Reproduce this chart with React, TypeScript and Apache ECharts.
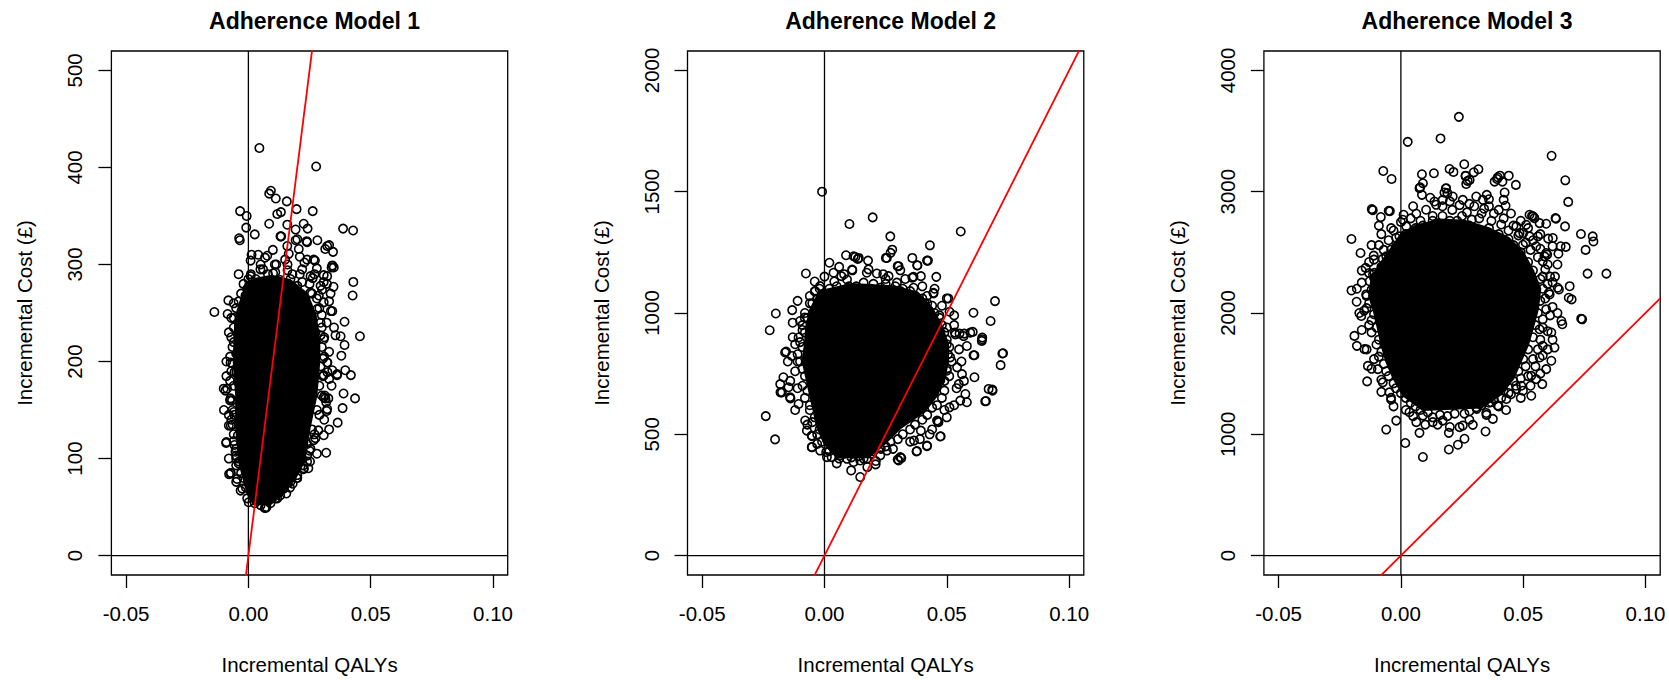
import React, { useEffect, useRef } from "react";
import * as echarts from "echarts";

// ---------- data ----------
const titles = ["Adherence Model 1", "Adherence Model 2", "Adherence Model 3"];
const xTitle = "Incremental QALYs";
const yTitle = "Incremental Cost (£)";
const xTicks = [-0.05, 0, 0.05, 0.1];
const xRange = [-0.056, 0.106];
const yTicks1 = [0, 100, 200, 300, 400, 500];
const yRange1 = [-20, 520];
const yTicks2 = [0, 500, 1000, 1500, 2000];
const yRange2 = [-80, 2080];
const yTicks3 = [0, 1000, 2000, 3000, 4000];
const yRange3 = [-160, 4160];
const wtpThreshold = 20000; // £ per QALY (red line)

// dense (fully overlapped) region of each cloud, in data units
const core1 = [
  [0.002, 285], [0.009, 288], [0.017, 284], [0.024, 270], [0.0275, 248], [0.029, 220], [0.029, 200],
  [0.0278, 165], [0.025, 131], [0.0228, 97], [0.019, 79], [0.0135, 62], [0.009, 53], [0.0022, 53],
  [0.0, 62], [-0.002, 79], [-0.0038, 97], [-0.005, 131], [-0.005, 165], [-0.006, 200], [-0.0055, 234],
  [-0.0045, 252], [-0.0025, 268], [-0.0005, 280],
];
const core2 = [
  [-0.002, 1090], [0.011, 1120], [0.028, 1110], [0.038, 1085], [0.044, 1020], [0.048, 945], [0.0505, 871],
  [0.0505, 800], [0.049, 730], [0.046, 660], [0.041, 595], [0.031, 525], [0.024, 455], [0.018, 405],
  [0.005, 405], [0.0, 460], [-0.003, 530], [-0.0045, 600], [-0.006, 666], [-0.0075, 735], [-0.009, 803],
  [-0.008, 871], [-0.0075, 940], [-0.006, 1010],
];
const core3 = [
  [0.006, 2720], [0.016, 2770], [0.026, 2760], [0.036, 2700], [0.044, 2620], [0.05, 2500], [0.054, 2350],
  [0.057, 2200], [0.056, 2030], [0.054, 1880], [0.052, 1740], [0.049, 1600], [0.046, 1460], [0.041, 1330],
  [0.033, 1220], [0.009, 1200], [0.001, 1320], [-0.003, 1460], [-0.006, 1600], [-0.008, 1740],
  [-0.0095, 1880], [-0.011, 2010], [-0.013, 2140], [-0.012, 2290], [-0.008, 2420], [-0.003, 2560], [0.0, 2650],
];

// individually visible simulations
const points1 = [
  [0.0045, 420], [0.0277, 401], [0.0085, 373], [0.0092, 376], [0.0112, 368], [0.0157, 365], [0.0197, 357],
  [0.0263, 355], [-0.0034, 355], [-0.0007, 350], [0.0118, 352], [0.0133, 354], [0.0085, 342], [0.0159, 341],
  [0.0226, 342], [0.0242, 337], [-0.0009, 338], [0.0026, 331], [-0.0038, 327], [-0.0035, 325], [0.0134, 329],
  [0.0387, 337], [0.0428, 335], [0.0193, 325], [0.0238, 324], [0.0282, 325], [0.033, 320], [0.0346, 313],
  [0.0314, 316], [0.0429, 282], [0.0426, 268], [0.0393, 241], [0.0349, 297], [0.034, 297], [0.0348, 277],
  [0.0337, 252], [-0.0139, 251], [-0.0085, 249], [-0.0082, 263], [0.0456, 226], [0.0377, 226], [0.0013, 310],
  [0.0068, 307], [0.0009, 304], [0.0108, 300], [0.0229, 302], [0.0272, 304], [0.0263, 286], [0.0308, 289],
  [0.0321, 280], [0.0301, 274], [-0.0005, 275], [-0.0012, 268],
  [0.0393, 217], [0.038, 206], [0.0396, 191], [0.0419, 186], [0.0362, 186], [0.0389, 167], [0.0436, 162],
  [0.0385, 152], [0.0365, 137], [0.032, 149], [0.0318, 158], [0.0327, 162], [0.0312, 165], [0.0308, 124],
  [0.0318, 106], [0.0267, 119], [0.0286, 129], [0.0323, 189], [0.033, 182], [0.0305, 203], [0.0323, 199],
  [0.0252, 97], [0.0245, 90], [0.0225, 89], [0.0198, 80], [0.0181, 74], [0.0155, 64], [0.0111, 59],
  [0.0067, 49], [0.0074, 50], [0.0026, 54], [0.0001, 55], [-0.0032, 67], [-0.005, 76], [-0.0072, 85],
  [-0.0079, 84], [-0.005, 93], [-0.005, 103], [-0.0091, 116], [-0.0057, 114], [-0.0072, 134], [-0.0065, 135],
  [-0.0057, 145], [-0.0101, 172], [-0.0094, 170], [-0.0067, 160], [-0.0057, 189], [-0.0065, 198], [-0.005, 208],
  [-0.0038, 222],
  [0.0077, 309], [0.0114, 300], [0.0101, 291], [0.0049, 295], [0.0009, 288], [0.0002, 278], [0.0063, 280],
  [0.0165, 311], [0.0206, 316], [0.024, 305], [0.0322, 319], [0.0343, 299], [0.0322, 288], [0.0295, 278],
  [0.0343, 252], [0.024, 323], [0.02, 326], [0.0131, 329], [0.0159, 319], [0.0193, 336], [0.0267, 305],
  [0.022, 295], [0.0254, 288], [0.0288, 268], [0.0308, 282], [0.0254, 271], [0.02, 278], [0.0172, 285],
  [0.0036, 268], [-0.0019, 257], [-0.0032, 247], [-0.0039, 237], [-0.0043, 228], [0.0336, 270], [0.0308, 261],
  [0.0281, 254], [0.0295, 240], [0.0274, 230],
  [0.0295, 227], [0.0308, 223], [0.0356, 227], [0.0322, 199], [0.0343, 191], [0.0308, 186], [0.0363, 187],
  [0.0315, 162], [0.0322, 151], [0.0308, 163], [0.0274, 121], [0.0254, 110], [0.024, 103], [0.024, 97],
  [0.0227, 90], [0.02, 83], [0.0172, 76], [0.0145, 69], [0.0118, 59], [0.007, 49],
  [-0.0073, 199], [-0.0087, 172], [-0.0073, 162], [-0.008, 134], [-0.009, 117], [-0.0053, 107], [-0.0073, 85],
  [-0.0046, 79], [-0.0025, 69], [-0.0005, 59], [-0.006, 220], [-0.0043, 208], [-0.0049, 189], [-0.0043, 179],
  [-0.006, 148], [-0.0043, 124], [-0.0039, 97],
  [0.003, 285], [0.008, 290], [0.013, 284], [0.018, 290], [0.022, 282], [0.026, 270], [0.029, 255],
  [0.03, 235], [0.03, 215], [0.0295, 195], [0.029, 175], [0.028, 150], [0.026, 130], [0.024, 115],
  [0.022, 100], [0.019, 88], [0.016, 75], [0.012, 66], [0.008, 58], [0.004, 58], [0.001, 66], [-0.002, 80],
  [-0.004, 95], [-0.005, 110], [-0.006, 125], [-0.0065, 150], [-0.006, 175], [-0.007, 190], [-0.0065, 215],
  [-0.006, 235], [-0.005, 255], [-0.003, 270], [0.0, 285], [0.005, 300], [0.016, 300], [0.027, 290],
  [0.032, 240], [0.033, 210], [0.031, 140], [-0.008, 145], [-0.009, 185], [-0.008, 230], [-0.007, 245],
  [0.001, 290], [0.006, 295], [0.011, 292], [0.016, 294], [0.021, 290], [0.025, 280], [0.028, 265],
  [0.03, 248], [0.031, 225], [0.031, 205], [0.0305, 185], [0.03, 165], [0.029, 145], [0.027, 125],
  [0.025, 108], [0.0225, 93], [0.02, 80], [0.017, 70], [0.013, 62], [0.009, 54], [0.005, 52], [0.002, 60],
  [-0.001, 70], [-0.003, 85], [-0.005, 100], [-0.006, 118], [-0.007, 140], [-0.0075, 160], [-0.0075, 180],
  [-0.0075, 205], [-0.007, 225], [-0.006, 245], [-0.004, 262], [-0.002, 280],
  [0.004, 310], [0.01, 315], [0.015, 305], [0.021, 308], [0.028, 296], [0.033, 262], [0.035, 235],
  [0.034, 175], [0.033, 130], [0.028, 105], [-0.009, 200], [-0.01, 150], [-0.008, 100], [-0.006, 260],
  [-0.004, 290],
];

const points2 = [
  [-0.001, 1500], [0.0102, 1367], [0.0197, 1394], [0.0557, 1336], [0.0269, 1316], [0.0431, 1279], [0.0277, 1261],
  [0.027, 1248], [0.0088, 1238], [0.0126, 1231], [0.0136, 1223], [0.0178, 1216], [0.0251, 1227], [0.0359, 1227],
  [0.0419, 1216], [0.0379, 1197], [0.002, 1207], [-0.0076, 1163], [0.0457, 1149], [0.0114, 1176], [0.0299, 1193],
  [0.031, 1176], [0.0359, 1146], [0.0394, 1152], [0.0069, 1152], [-0.004, 1089], [0.0697, 1049], [0.0609, 1001],
  [0.0679, 967], [0.0506, 1060], [0.0511, 1005], [0.0445, 1083], [-0.0199, 998], [-0.0132, 1012], [-0.0224, 929],
  [-0.0081, 981], [0.0533, 919], [0.0552, 915], [0.0571, 915], [0.0606, 922], [0.0645, 899],
  [0.0119, 1234], [0.014, 1227], [0.0113, 1179], [0.0037, 1166], [0.0255, 1227], [0.038, 1196], [0.0423, 1216],
  [0.0303, 1193], [0.0364, 1149], [0.0446, 1081], [0.05, 1060], [-0.0018, 1111], [-0.0038, 1090], [0.001, 1077],
  [0.0092, 1138], [0.0173, 1166], [0.0214, 1163], [0.0262, 1152], [0.0296, 1125], [0.0364, 1104], [0.0419, 1070],
  [0.035, 1070],
  [-0.01, 967], [-0.0106, 899], [-0.012, 871], [-0.0157, 841], [-0.0133, 823], [-0.0168, 735], [-0.0181, 707],
  [-0.0147, 694], [-0.0174, 673], [-0.0141, 653], [-0.0106, 625], [-0.024, 575], [-0.0202, 479], [-0.0079, 557],
  [-0.0072, 515], [-0.0052, 495], [-0.0052, 447], [-0.0018, 433], [0.001, 406],
  [0.0535, 912], [0.0569, 905], [0.0596, 919], [0.0644, 892], [0.0582, 864], [0.0609, 826], [0.0727, 833],
  [0.072, 785], [0.05, 871], [0.0514, 817], [0.0542, 776], [0.0562, 748], [0.0549, 707], [0.0613, 735],
  [0.0576, 666], [0.0582, 632], [0.0555, 639], [0.0671, 687], [0.0687, 680], [0.0657, 636], [0.0511, 611],
  [0.046, 557], [0.0466, 550], [0.0473, 491], [0.0419, 454], [0.0378, 431], [0.031, 406], [0.0303, 392],
  [0.0394, 515], [0.0366, 474], [0.05, 762], [0.0473, 721],
  [0.0255, 433], [0.0228, 413], [0.0173, 399], [0.0146, 392], [0.0092, 399], [0.0064, 413], [0.0119, 386],
  [0.0146, 324], [0.0109, 351], [0.0175, 365], [0.0209, 376], [0.0299, 396], [0.0314, 402], [0.0376, 429],
  [0.0419, 451], [0.0475, 492], [0.0463, 554], [0.0029, 406], [0.0007, 427], [-0.0051, 447], [-0.0051, 492],
  [-0.0161, 837], [-0.018, 673], [-0.0139, 648], [0.073, 834], [0.066, 637], [0.0686, 684], [0.0643, 885],
  [0.0613, 826],
  [0.005, 1110], [0.02, 1120], [0.032, 1100], [0.041, 1040], [0.047, 990], [0.05, 940], [-0.006, 1040],
  [-0.009, 930], [-0.011, 800],
  [-0.002, 1100], [0.004, 1130], [0.01, 1110], [0.016, 1125], [0.023, 1105], [0.029, 1110], [0.035, 1090],
  [0.04, 1060], [0.044, 1030], [0.047, 980], [0.049, 920], [0.051, 860], [0.052, 800], [0.051, 740],
  [0.049, 680], [0.046, 620], [0.042, 580], [0.037, 540], [0.032, 500], [0.027, 470], [0.023, 440],
  [0.019, 420], [0.014, 410], [0.008, 420], [0.004, 440], [0.001, 480], [-0.002, 520], [-0.004, 570],
  [-0.006, 620], [-0.007, 680], [-0.008, 740], [-0.01, 800], [-0.009, 860], [-0.008, 920], [-0.007, 980],
  [-0.005, 1040], [-0.012, 760], [-0.013, 900], [-0.011, 690], [0.054, 690], [0.056, 800], [0.053, 950],
  [0.045, 1100], [0.025, 1140], [0.008, 1160], [-0.004, 1130], [0.035, 470], [0.028, 440], [0.044, 520],
  [0.05, 570],
  [-0.003, 1060], [0.002, 1100], [0.007, 1080], [0.013, 1110], [0.019, 1100], [0.025, 1120], [0.031, 1090],
  [0.037, 1070], [0.042, 1040], [0.045, 1000], [0.048, 950], [0.05, 890], [0.0505, 830], [0.05, 770],
  [0.049, 720], [0.048, 650], [0.044, 610], [0.04, 560], [0.035, 520], [0.03, 480], [0.025, 450],
  [0.02, 430], [0.016, 400], [0.011, 405], [0.006, 400], [0.002, 430], [-0.001, 470], [-0.003, 500],
  [-0.005, 550], [-0.006, 600], [-0.008, 650], [-0.009, 700], [-0.009, 770], [-0.011, 830], [-0.01, 880],
  [-0.009, 950], [-0.008, 1000], [-0.006, 1070],
  [0.0, 1150], [0.006, 1190], [0.018, 1180], [0.024, 1160], [0.033, 1140], [0.04, 1110], [0.048, 1030],
  [0.053, 990], [0.055, 850], [0.057, 720], [0.053, 620], [0.049, 600], [0.043, 500], [0.039, 480],
  [0.021, 390], [0.005, 380], [-0.003, 460], [-0.007, 540], [-0.012, 600], [-0.014, 720], [-0.015, 800],
  [-0.013, 960], [-0.011, 1050],
];

const points3 = [
  [0.0237, 3617], [0.0162, 3439], [0.0028, 3411], [0.0616, 3296], [-0.0072, 3171], [-0.0038, 3105], [0.0086, 3144],
  [0.0135, 3152], [0.0199, 3187], [0.0215, 3163], [0.0259, 3226], [0.0265, 3132], [0.0273, 3089], [0.0298, 3160],
  [0.0317, 3185], [0.0672, 3094], [0.0684, 2916], [0.0405, 3132], [0.0441, 3132], [0.0393, 3105], [0.0415, 3083],
  [0.047, 3056], [0.0079, 3037], [0.0086, 2974], [0.0184, 3026], [0.019, 2988], [-0.0115, 2848], [-0.0045, 2840],
  [-0.0082, 2791], [-0.0202, 2610], [-0.0165, 2495], [-0.0111, 2473], [-0.0144, 2372], [-0.0114, 2317],
  [-0.0202, 2186], [-0.0181, 2093], [0.0736, 2651], [0.0784, 2632], [0.0787, 2590], [0.0755, 2520], [0.0763, 2325],
  [0.084, 2325], [0.0634, 2777], [0.0671, 2714], [0.0536, 2801], [0.0546, 2782], [0.0602, 2613], [0.0653, 2550],
  [0.0674, 2545], [0.0598, 2481], [0.0644, 2489], [0.069, 2221], [0.0698, 2112], [0.0741, 1948], [0.0656, 1934],
  [0.066, 1907], [0.062, 2254], [0.0641, 2208], [0.0605, 2167], [0.0686, 2126],
  [-0.0119, 2856], [0.0011, 2810], [0.0008, 2769], [0.0063, 2818], [0.009, 3070], [0.0076, 3029], [0.0185, 3029],
  [0.0178, 2993], [0.0264, 3130], [0.0281, 3097], [0.0267, 3064], [0.0396, 3119], [0.0383, 3083], [0.0424, 2993],
  [0.042, 2933], [0.0428, 2884], [0.0351, 2974], [0.036, 2938], [0.0526, 2810], [0.054, 2796], [0.0567, 2741],
  [0.0594, 2736], [0.0632, 2782], [0.0621, 2618], [0.0594, 2495], [0.058, 2426], [0.0472, 2714], [0.0512, 2727],
  [0.0485, 2659], [0.0526, 2632], [0.056, 2632], [0.0499, 2563], [0.0553, 2550], [0.0587, 2467], [0.0171, 2933],
  [0.0137, 2919], [0.0212, 2960], [0.0253, 2933], [0.0308, 2960], [0.0335, 2933], [0.0103, 2851], [0.0144, 2892],
  [0.0022, 2714], [-0.0006, 2632], [-0.0019, 2550], [-0.004, 2522], [-0.006, 2467], [-0.0074, 2385],
  [-0.0108, 2331], [-0.0128, 2262], [-0.0074, 2446], [-0.005, 2842],
  [-0.0142, 2153], [-0.0162, 1975], [-0.019, 1811], [-0.018, 1729], [-0.0149, 1702], [-0.0135, 1564],
  [-0.0138, 1436], [-0.0094, 1537], [-0.0074, 1428], [-0.0047, 1346], [-0.004, 1285], [-0.006, 1039],
  [-0.0019, 1113], [0.0018, 928], [0.009, 813], [0.0076, 1012], [0.0196, 1012], [0.0253, 1072], [0.024, 1059],
  [0.0294, 1078], [0.0346, 1023], [0.0376, 1127], [0.0349, 1176], [0.0196, 875], [0.0233, 914], [0.026, 963],
  [0.013, 1100], [0.0171, 1113], [0.009, 1154], [0.0035, 1182], [0.0063, 1100], [0.0308, 1223], [0.0396, 1236],
  [0.0431, 1291], [0.0369, 1264], [0.0472, 1373], [0.0492, 1400], [0.0533, 1318], [0.0578, 1414], [0.0553, 1455],
  [0.0533, 1482], [0.0615, 1606], [0.0594, 1537], [0.0628, 1715], [0.0615, 1839], [0.058, 1948], [0.0737, 1953],
  [0.0646, 2194], [0.0567, 1633], [0.058, 1729], [0.0567, 1866], [0.0594, 2030], [0.0608, 2153], [0.0499, 1359],
  [0.002, 2650], [0.006, 2700], [0.011, 2680], [0.015, 2740], [0.019, 2700], [0.023, 2760], [0.028, 2720],
  [0.032, 2780], [0.036, 2700], [0.04, 2650], [0.044, 2610], [0.046, 2560], [0.049, 2500], [0.052, 2420],
  [0.054, 2350], [0.057, 2280], [0.058, 2200], [0.057, 2100], [0.056, 2000], [0.055, 1900], [0.054, 1800],
  [0.052, 1700], [0.05, 1620], [0.048, 1520], [0.046, 1440], [0.042, 1360], [0.038, 1290], [0.033, 1240],
  [0.028, 1190], [0.022, 1170], [0.016, 1160], [0.011, 1180], [0.006, 1230], [0.002, 1300], [-0.002, 1380],
  [-0.005, 1480], [-0.007, 1580], [-0.008, 1680], [-0.009, 1780], [-0.01, 1880], [-0.011, 1990],
  [-0.013, 2080], [-0.012, 2190], [-0.011, 2290], [-0.008, 2380], [-0.004, 2460], [0, 2540], [0.004, 2600],
  [0.013, 2800], [0.021, 2850], [0.027, 2830], [0.034, 2860], [0.038, 2820], [0.042, 2780], [0.046, 2720],
  [0.05, 2660], [0.054, 2600], [0.057, 2530], [0.06, 2400], [0.061, 2300], [0.062, 2050], [0.06, 1850],
  [0.058, 1650], [0.055, 1560], [0.052, 1480], [0.045, 1330], [0.04, 1230], [0.015, 1080], [0.005, 1150],
  [-0.003, 1230], [-0.008, 1350], [-0.011, 1620], [-0.013, 1900], [-0.015, 2020], [-0.016, 2250],
  [-0.013, 2420], [-0.009, 2560], [-0.003, 2680], [0.008, 2760], [0.017, 2880], [0.024, 2890], [0.03, 2880],
  [-0.004, 2700], [0.0, 2750], [0.004, 2780], [0.009, 2720], [0.013, 2760], [0.017, 2800], [0.02, 2760],
  [0.025, 2800], [0.029, 2770], [0.033, 2820], [0.037, 2760], [0.041, 2730], [0.044, 2680], [0.048, 2640],
  [0.051, 2580], [0.053, 2520], [0.056, 2460], [0.059, 2360], [0.058, 2300], [0.06, 2240], [0.059, 2120],
  [0.061, 1980], [0.058, 1880], [0.057, 1780], [0.056, 1700], [0.054, 1620], [0.051, 1560], [0.049, 1460],
  [0.047, 1400], [0.044, 1340], [0.041, 1300], [0.036, 1260], [0.031, 1210], [0.026, 1170], [0.019, 1150],
  [0.013, 1140], [0.008, 1200], [0.004, 1260], [0.0, 1340], [-0.003, 1420], [-0.006, 1520], [-0.009, 1640],
  [-0.01, 1740], [-0.012, 1840], [-0.012, 1940], [-0.014, 2040], [-0.014, 2140], [-0.013, 2330],
  [-0.011, 2440], [-0.007, 2520], [-0.005, 2600], [-0.002, 2620], [0.002, 2580], [0.014, 2690], [0.03, 2670],
  [0.045, 2520], [0.05, 2380],
  [0.005, 2880], [0.012, 2950], [0.02, 2920], [0.028, 2900], [0.036, 2880], [0.04, 2850], [0.045, 2820],
  [0.049, 2760], [0.052, 2700], [0.057, 2650], [0.062, 2550], [0.064, 2400], [0.063, 2300], [0.064, 2000],
  [0.062, 1780], [0.06, 1700], [0.057, 1500], [0.053, 1400], [0.049, 1300], [0.043, 1200], [0.035, 1160],
  [0.028, 1120], [0.02, 1060], [0.01, 1080], [0.002, 1200], [-0.004, 1300], [-0.008, 1450], [-0.012, 1540],
  [-0.014, 1700], [-0.016, 1860], [-0.017, 2000], [-0.018, 2200], [-0.016, 2350], [-0.012, 2560],
  [-0.008, 2650], [-0.009, 2720],
];

// ---------- layout / style ----------
const FONT = "'Liberation Sans', Arial, Helvetica, sans-serif";
const FS = 20.5;
const TITLE_FS = 23;
const gridLefts = [111.4, 687.5, 1263.9];
const gridTop = 51;
const gridW = 396.3;
const gridH = 525.3;

const panels = [
  { core: core1, points: points1, yTicks: yTicks1, yRange: yRange1 },
  { core: core2, points: points2, yTicks: yTicks2, yRange: yRange2 },
  { core: core3, points: points3, yTicks: yTicks3, yRange: yRange3 },
];

function buildOption() {
  const textStyle = { fontFamily: FONT, fontSize: FS, color: "#000" };
  const series: any[] = [];
  panels.forEach((p, i) => {
    series.push({
      type: "custom",
      xAxisIndex: i,
      yAxisIndex: i,
      data: [[0, 0]],
      clip: true,
      silent: true,
      z: 2,
      renderItem: (_params: any, api: any) => ({
        type: "polygon",
        shape: { points: p.core.map((c) => api.coord(c)) },
        style: { fill: "#000", stroke: "#000", lineWidth: 2 },
      }),
    });
    series.push({
      type: "scatter",
      xAxisIndex: i,
      yAxisIndex: i,
      data: p.points,
      symbol: "circle",
      symbolSize: 8.4,
      silent: true,
      z: 3,
      itemStyle: { color: "rgba(0,0,0,0)", borderColor: "#000", borderWidth: 1.6, opacity: 1 },
    });
    series.push({
      type: "line",
      xAxisIndex: i,
      yAxisIndex: i,
      data: [[0, p.yRange[0]], [0, p.yRange[1]]],
      symbol: "none",
      silent: true,
      z: 4,
      lineStyle: { color: "#000", width: 1.3 },
    });
    series.push({
      type: "line",
      xAxisIndex: i,
      yAxisIndex: i,
      data: [[xRange[0], 0], [xRange[1], 0]],
      symbol: "none",
      silent: true,
      z: 4,
      lineStyle: { color: "#000", width: 1.3 },
    });
    series.push({
      type: "line",
      xAxisIndex: i,
      yAxisIndex: i,
      data: [
        [xRange[0], wtpThreshold * xRange[0]],
        [xRange[1], wtpThreshold * xRange[1]],
      ],
      symbol: "none",
      silent: true,
      clip: true,
      z: 5,
      lineStyle: { color: "#ff0000", width: 1.8 },
    });
  });

  return {
    animation: false,
    backgroundColor: "#fff",
    title: titles.map((t, i) => ({
      text: t,
      left: gridLefts[i] + gridW / 2,
      top: 4,
      textAlign: "center",
      textStyle: { fontFamily: FONT, fontSize: TITLE_FS, fontWeight: "bold", color: "#000" },
    })),
    grid: panels.map((_p, i) => ({
      left: gridLefts[i],
      top: gridTop,
      width: gridW,
      height: gridH,
      show: true,
      borderColor: "#000",
      borderWidth: 1.3,
      backgroundColor: "rgba(0,0,0,0)",
      containLabel: false,
    })),
    xAxis: panels.map((_p, i) => ({
      type: "value",
      gridIndex: i,
      min: xRange[0],
      max: xRange[1],
      name: xTitle,
      nameLocation: "middle",
      nameGap: 79,
      nameTextStyle: textStyle,
      axisLine: { show: false, onZero: false },
      splitLine: { show: false },
      axisTick: {
        show: true,
        inside: false,
        customValues: xTicks,
        length: 13,
        lineStyle: { color: "#000", width: 1.3 },
      },
      axisLabel: {
        customValues: xTicks,
        formatter: (v: number) => v.toFixed(2),
        margin: 28,
        ...textStyle,
      },
    })),
    yAxis: panels.map((p, i) => ({
      type: "value",
      gridIndex: i,
      min: p.yRange[0],
      max: p.yRange[1],
      name: yTitle,
      nameLocation: "middle",
      nameRotate: 90,
      nameGap: 76,
      nameTextStyle: textStyle,
      axisLine: { show: false, onZero: false },
      splitLine: { show: false },
      axisTick: {
        show: true,
        inside: false,
        customValues: p.yTicks,
        length: 13,
        lineStyle: { color: "#000", width: 1.3 },
      },
      axisLabel: {
        customValues: p.yTicks,
        formatter: (v: number) => String(v),
        rotate: 90,
        margin: 26,
        ...textStyle,
      },
    })),
    series,
  };
}

export default function App() {
  const ref = useRef<HTMLDivElement>(null);
  useEffect(() => {
    if (!ref.current) return;
    const chart = echarts.init(ref.current, undefined, { renderer: "svg" });
    chart.setOption(buildOption() as any);
    return () => chart.dispose();
  }, []);
  return (
    <div
      ref={ref}
      style={{ position: "absolute", left: 0, top: 0, width: 1669, height: 680, background: "#fff" }}
    />
  );
}
